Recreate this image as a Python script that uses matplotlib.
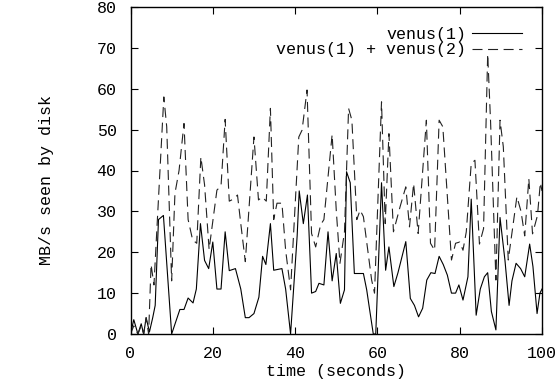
import numpy as np
import matplotlib.pyplot as plt

# venus(1) alone, MB/s seen by disk
t_one = [0, 0.8, 1.8, 2.6, 3.2, 3.8, 4.6, 5.4, 6.0, 6.8, 8.0, 10.0, 12.0, 13.0, 14.0,
         15.2, 16.0, 17.0, 18.0, 19.0, 20.0, 21.0, 22.0, 23.0, 24.0, 25.5, 26.8, 27.9,
         28.8, 30.0, 31.2, 32.1, 32.9, 34.0, 34.8, 36.8, 37.7, 38.9, 40.5, 41.0, 42.0,
         43.0, 44.0, 45.0, 45.8, 47.0, 48.0, 49.0, 50.0, 51.0, 52.0, 52.5, 53.4, 54.4,
         56.6, 57.4, 58.0, 59.0, 59.6, 61.0, 62.0, 62.8, 64.0, 65.0, 66.9, 68.0, 69.0,
         70.0, 71.0, 72.0, 73.0, 74.0, 75.0, 76.0, 77.0, 78.0, 79.0, 79.8, 80.8, 82.0,
         82.8, 84.0, 85.0, 86.0, 86.8, 87.7, 88.8, 89.8, 91.0, 92.0, 92.7, 93.7, 94.8,
         95.8, 97.0, 97.8, 98.8, 99.5, 100.0]
mb_one = [0, 3.5, 0, 2.5, 0, 4, 0.5, 4, 7, 28, 29, 0, 6, 6, 8.8,
          7.6, 11, 27, 18, 16, 22.5, 11, 11, 25, 15.5, 16, 11, 4,
          4, 5, 9, 19, 17, 27, 15.6, 16, 11, 0, 24, 35, 27,
          34, 10, 10.4, 12.4, 12, 25, 13, 19.7, 7.5, 10.8, 39.7, 37, 14.8,
          14.8, 10.8, 6.7, 0, 0, 37, 15.6, 21.3, 11.6, 15, 22.6, 8.7, 7,
          4.2, 6.3, 13.2, 15, 14.8, 19, 17, 14.4, 10, 10, 12, 8.3, 14,
          33, 4.6, 11, 14, 15, 5.5, 1, 28.5, 18, 7, 13, 17.3, 16,
          14, 22, 16.5, 5, 10, 11]

# venus(1) + venus(2)
t_both = [0, 0.8, 1.8, 2.6, 3.2, 3.8, 4.4, 5.0, 5.7, 8.1, 8.8, 10.0, 10.8, 11.8, 13.0,
          14.0, 15.1, 16.1, 17.1, 18.0, 19.1, 21.0, 22.0, 23.0, 24.0, 25.0, 26.0, 26.8,
          27.9, 30.0, 31.1, 32.0, 33.0, 34.0, 34.8, 35.6, 36.8, 37.7, 38.9, 40.9, 41.7,
          42.9, 44.0, 45.0, 46.2, 47.0, 49.0, 50.0, 50.9, 52.0, 53.0, 53.8, 55.0, 55.8,
          56.6, 58.6, 59.3, 61.0, 61.9, 62.8, 63.9, 65.5, 66.9, 67.8, 68.8, 69.9, 71.9,
          72.9, 73.9, 75.0, 75.9, 78.0, 79.0, 80.0, 80.8, 81.6, 82.8, 83.7, 84.8, 85.8,
          86.8, 87.5, 88.8, 89.8, 90.6, 91.8, 93.9, 94.9, 95.8, 96.8, 97.7, 98.9, 99.6,
          100.0]
mb_both = [0, 2, 0, 2, 0, 4, 0, 17, 12, 58, 50.7, 13, 34.4, 40, 51.5,
           28, 23, 22.2, 43.3, 36.5, 20.7, 35.2, 36.2, 52.5, 32.5, 33, 34, 27,
           17.7, 48.2, 32.8, 33.5, 32.5, 55.2, 28, 32, 32, 20.5, 10.8, 48.2, 49.9,
           59.7, 24.6, 21.3, 26.7, 28, 48.8, 30.3, 17.3, 25, 55.2, 52.3, 28, 30.3,
           28.7, 13.2, 10, 56.8, 27, 49, 25, 31.1, 36, 26.2, 36.8, 24.6, 52.3,
           22.2, 20.5, 52.3, 50.7, 18.1, 22.2, 22.5, 20.5, 25, 41.7, 42.5, 22, 25.8,
           68.5, 52, 13.2, 52.3, 45.8, 18.1, 33.6, 30, 24, 38, 24.5, 29, 37,
           35]

plt.rcParams['font.family'] = ['Liberation Mono', 'DejaVu Sans Mono']
plt.rcParams['font.size'] = 12

fig = plt.figure(figsize=(5.59, 3.83), dpi=100)
ax = fig.add_axes([130.5 / 559, 1 - 334 / 383, (542 - 130.5) / 559, (334 - 7) / 383])

ax.plot(t_one, mb_one, color='black', lw=0.8, label='venus(1)')
ax.plot(t_both, mb_both, color='#222222', lw=0.8, dashes=(9, 5), label='venus(1) + venus(2)')

ax.set_xlim(0, 100)
ax.set_ylim(0, 80)
ax.set_xticks(np.arange(0, 101, 20))
ax.set_yticks(np.arange(0, 81, 10))
ax.tick_params(direction='in', top=True, right=True, length=5, width=0.8, colors='black')
ax.tick_params(axis='x', pad=9)
ax.tick_params(axis='y', pad=10)
for s in ax.spines.values():
    s.set_linewidth(1.0)

ax.set_xlabel('time (seconds)', labelpad=2)
ax.set_ylabel('MB/s seen by disk')
ax.yaxis.set_label_coords(-0.186, 0.47)

ax.legend(loc='upper right', bbox_to_anchor=(0.951, 0.94), frameon=False, markerfirst=False,
          handlelength=3.0, handletextpad=0.35, labelspacing=0.05, borderpad=0, borderaxespad=0)

fig.savefig('out.png', dpi=100)
